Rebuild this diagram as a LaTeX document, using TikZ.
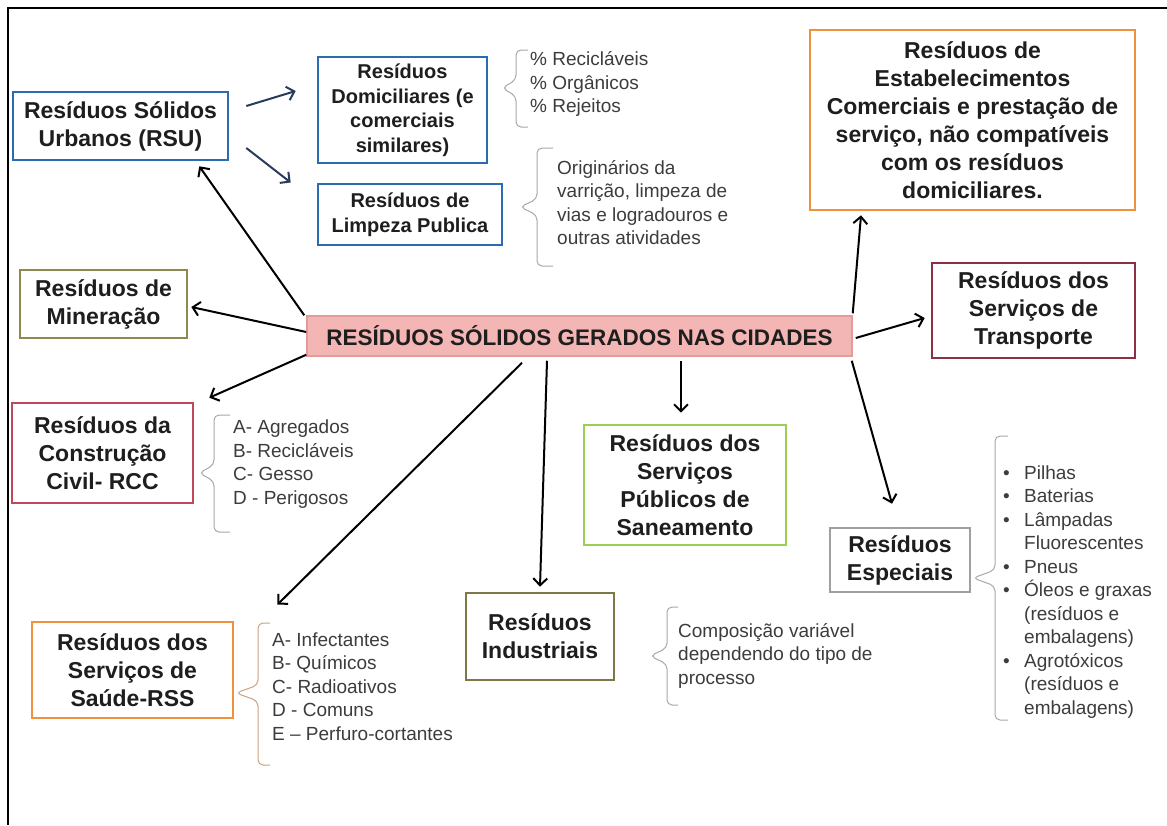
\documentclass[tikz,border=0pt]{standalone}
\usepackage{fontspec}
\setmainfont{Liberation Sans}
\usetikzlibrary{arrows.meta}
\definecolor{rsublue}{HTML}{2B6CB0}
\definecolor{orangebox}{HTML}{F0913F}
\definecolor{maroonbox}{HTML}{8B3045}
\definecolor{olivebox}{HTML}{8C8A50}
\definecolor{indbox}{HTML}{7D7A48}
\definecolor{crimsonbox}{HTML}{C0485A}
\definecolor{greenbox}{HTML}{9BCF53}
\definecolor{graybox}{HTML}{A0A0A0}
\definecolor{cenfill}{HTML}{F4B5B5}
\definecolor{cendraw}{HTML}{E39A9A}
\definecolor{boxtext}{HTML}{1E1E1E}
\definecolor{listtext}{HTML}{3C3C3C}
\definecolor{arrownavy}{HTML}{2A3B5C}
\definecolor{bracegray}{HTML}{A8A8A8}
\definecolor{bracetan}{HTML}{C9A27E}
\newcommand\itembul{\makebox[21pt][l]{•}}
\newcommand\itemcont{\hspace*{21pt}}
% hook x, spine x, tip x, top, middle, bottom
\newcommand\chave[7][bracegray]{\draw[chave,draw=#1] (#2,#5) -- (#3,#5) -- (#3,{#6-8}) -- (#4,#6) -- (#3,{#6+8}) -- (#3,#7) -- (#2,#7);}
\begin{document}
\begin{tikzpicture}[x=1pt,y=-1pt,
  box/.style={draw=#1,line width=2.6pt,fill=white,align=center,inner sep=0pt,text=boxtext,font=\bfseries\fontsize{23}{28}\selectfont},
  subbox/.style={box=#1,font=\bfseries\fontsize{20}{24.5}\selectfont},
  cenbox/.style={draw=cendraw,line width=1.5pt,fill=cenfill,inner sep=0pt,text=boxtext,font=\bfseries\fontsize{22.5}{27}\selectfont},
  list/.style={anchor=west,align=left,inner sep=0pt,text=listtext,font=\fontsize{19}{23.5}\selectfont},
  seta/.style={-{Straight Barb[length=7pt,width=14pt]},line width=2pt},
  chave/.style={line width=1pt,rounded corners=5pt}]
\useasboundingbox (0,0) rectangle (1167,825);
\draw[line width=1.5pt] (1167,8) -- (8,8) -- (8,825);

\node[box=rsublue,minimum width=215pt,minimum height=68pt] (rsu) at (120.5,126) {Resíduos Sólidos\\Urbanos (RSU)};
\node[subbox=rsublue,minimum width=169pt,minimum height=106pt] (dom) at (402.5,110) {Resíduos\\Domiciliares (e\\comerciais\\similares)};
\node[subbox=rsublue,minimum width=184pt,minimum height=61pt] (lim) at (410,214.5) {Resíduos de\\Limpeza Publica};
\node[box=orangebox,minimum width=325pt,minimum height=180pt] (com) at (972.5,120) {Resíduos de\\Estabelecimentos\\Comerciais e prestação de\\serviço, não compatíveis\\com os resíduos\\domiciliares.};
\node[box=maroonbox,minimum width=203pt,minimum height=95pt] (tra) at (1033.5,310.5) {Resíduos dos\\Serviços de\\Transporte};
\node[box=olivebox,minimum width=167pt,minimum height=68pt] (min) at (103.5,304) {Resíduos de\\Mineração};
\node[cenbox,minimum width=545pt,minimum height=40pt] (cen) at (579.5,336) {RESÍDUOS SÓLIDOS GERADOS NAS CIDADES};
\node[box=crimsonbox,minimum width=181pt,minimum height=100pt] (rcc) at (102.5,453) {Resíduos da\\Construção\\Civil- RCC};
\node[box=orangebox,minimum width=201pt,minimum height=96pt] (rss) at (132.5,670) {Resíduos dos\\Serviços de\\Saúde-RSS};
\node[box=indbox,minimum width=148pt,minimum height=87pt] (ind) at (540,636.5) {Resíduos\\Industriais};
\node[box=greenbox,minimum width=202pt,minimum height=120pt] (san) at (685,485) {Resíduos dos\\Serviços\\Públicos de\\Saneamento};
\node[box=graybox,minimum width=140pt,minimum height=64pt] (esp) at (900,560) {Resíduos\\Especiais};

\node[list] (domlist) at (530,84) {\% Recicláveis\\\% Orgânicos\\\% Rejeitos};
\node[list] (limlist) at (557,202.5) {Originários da\\varrição, limpeza de\\vias e logradouros e\\outras atividades};
\node[list] (rcclist) at (233,464) {A- Agregados\\B- Recicláveis\\C- Gesso\\D - Perigosos};
\node[list] (rsslist) at (272,686.5) {A- Infectantes\\B- Químicos\\C- Radioativos\\D - Comuns\\E – Perfuro-cortantes};
\node[list] (indlist) at (678,655.5) {Composição variável\\dependendo do tipo de\\processo};
\node[list] (esplist) at (1003,592) {\itembul Pilhas\\\itembul Baterias\\\itembul Lâmpadas\\\itemcont Fluorescentes\\\itembul Pneus\\\itembul Óleos e graxas\\\itemcont (resíduos e\\\itemcont embalagens)\\\itembul Agrotóxicos\\\itemcont (resíduos e\\\itemcont embalagens)};

\chave{528}{516}{502}{50}{88}{127}
\chave{553}{537}{520}{148}{207}{266}
\chave{230}{214}{199}{415}{473}{532}
\chave[bracetan]{270}{258}{236}{623}{693}{765}
\chave{678}{667}{650}{607}{656}{705}
\chave{1008}{995}{973}{436}{578}{720}

\draw[seta,draw=arrownavy] ([shift={(17,-20)}]rsu.east) -- ([shift={(-21,-19)}]dom.west);
\draw[seta,draw=arrownavy] ([shift={(17,22)}]rsu.east) -- ([shift={(-26,-32)}]lim.west);
\draw[seta] ([shift={(-2,0)}]cen.north west) -- ([shift={(-30,5)}]rsu.south east);
\draw[seta] ([shift={(0,-4)}]cen.west) -- ([shift={(3,3)}]min.east);
\draw[seta] ([shift={(0,-2)}]cen.south west) -- ([shift={(15,-4)}]rcc.north east);
\draw[seta] ([shift={(-57.5,6)}]cen.south) -- ([shift={(43,-16)}]rss.north east);
\draw[seta] ([shift={(-32.5,4)}]cen.south) -- ([shift={(0,-5)}]ind.north);
\draw[seta] ([shift={(101.5,4)}]cen.south) -- ([shift={(-4,-11)}]san.north);
\draw[seta] ([shift={(-1,4)}]cen.south east) -- ([shift={(-8,-23)}]esp.north);
\draw[seta] ([shift={(3,2)}]cen.east) -- ([shift={(-6,7.5)}]tra.west);
\draw[seta] ([shift={(0,-2)}]cen.north east) -- ([shift={(-111.5,4)}]com.south);
\end{tikzpicture}
\end{document}
